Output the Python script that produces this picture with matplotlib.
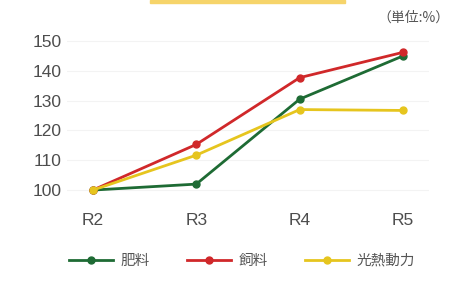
import matplotlib
matplotlib.use("Agg")
import matplotlib.pyplot as plt
from matplotlib.patches import Rectangle

categories = ["R2", "R3", "R4", "R5"]
series_names = ["肥料", "飼料", "光熱動力"]
fertilizer = [100, 102, 130.5, 145]
feed = [100, 115.3, 137.7, 146.2]
energy = [100, 111.7, 127, 126.7]
yticks = [100, 110, 120, 130, 140, 150]
unit_label = "（単位:%）"

colors = ["#1e6b34", "#d0282a", "#e6c51e"]

plt.rcParams['font.family'] = ['Noto Sans CJK JP', 'DejaVu Sans']

W, H = 452, 286
fig = plt.figure(figsize=(W / 100, H / 100), dpi=100)
fig.patch.set_facecolor("white")

ax = fig.add_axes([67 / W, 1 - 202 / H, (429 - 67) / W, (202 - 35) / H])
x = list(range(len(categories)))
for vals, name, c in zip([fertilizer, feed, energy], series_names, colors):
    ax.plot(x, vals, color=c, lw=2.0, marker="o", ms=5, label=name, zorder=3)

ax.set_xlim(-0.25, 3.25)
ax.set_ylim(96, 152)
ax.set_xticks(x)
ax.set_xticklabels(categories)
ax.set_yticks(yticks)
for s in ax.spines.values():
    s.set_visible(False)
ax.tick_params(axis="both", length=0, colors="#4d4d4d", labelsize=12.5)
ax.tick_params(axis="x", pad=8)
ax.tick_params(axis="y", pad=4)
for lab in ax.get_xticklabels() + ax.get_yticklabels():
    lab.set_family(['Liberation Sans', 'DejaVu Sans'])
for yv in yticks:
    ax.axhline(yv, color="#f3f3f3", lw=0.8, zorder=0)

fig.text(450 / W, 1 - 18 / H, unit_label, fontsize=10, color="#555555",
         ha="right", va="center")

# title highlight bar remnant at top
fig.patches.append(Rectangle((150 / W, 1 - 3 / H), 195 / W, 3 / H,
                             transform=fig.transFigure, color="#f6d46a",
                             zorder=0))

handles, labels = ax.get_legend_handles_labels()
leg = fig.legend(handles, labels, ncol=3, loc="center",
                 bbox_to_anchor=(242 / W, 1 - 261 / H), frameon=False,
                 fontsize=10.5, handlelength=3.0, columnspacing=2.6,
                 handletextpad=0.5, labelcolor="#555555")

fig.savefig("out.png", dpi=100, facecolor="white")
